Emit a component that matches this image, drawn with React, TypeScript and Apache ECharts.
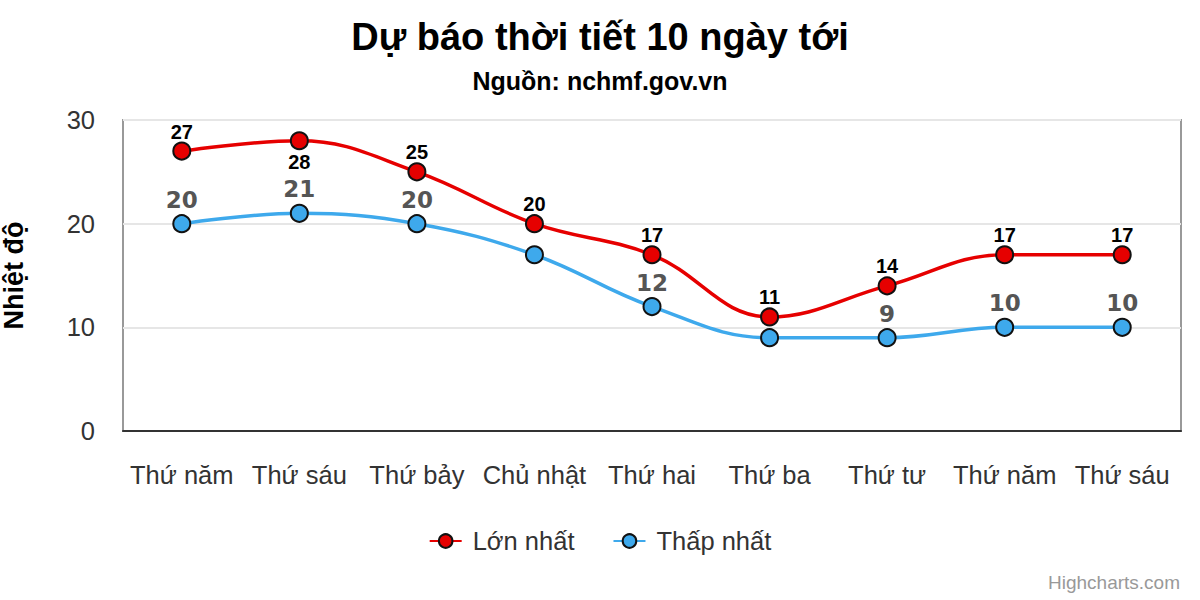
import React, { useEffect, useRef } from "react";
import * as echarts from "echarts";

const categories = ["Thứ năm", "Thứ sáu", "Thứ bảy", "Chủ nhật", "Thứ hai", "Thứ ba", "Thứ tư", "Thứ năm", "Thứ sáu"];
const maxTemps = [27, 28, 25, 20, 17, 11, 14, 17, 17];
const minTemps = [20, 21, 20, 17, 12, 9, 9, 10, 10];
const yTicks = [0, 10, 20, 30];
const titleText = "Dự báo thời tiết 10 ngày tới";
const subtitleText = "Nguồn: nchmf.gov.vn";
const yName = "Nhiệt độ";
const seriesNames = ["Lớn nhất", "Thấp nhất"];
const creditText = "Highcharts.com";
const hiddenMinLabels = [3, 5];
const belowMaxLabels = [1];

const FONT = "'Liberation Sans', Arial, Helvetica, sans-serif";
const WIDE_FONT = "'DejaVu Sans', Verdana, sans-serif";

export default function App() {
  const ref = useRef<HTMLDivElement>(null);
  useEffect(() => {
    document.body.style.margin = "0";
    if (!ref.current) return;
    const chart = echarts.init(ref.current, null, { renderer: "svg" });
    const maxData = maxTemps.map((v, i) =>
      belowMaxLabels.includes(i) ? { value: v, label: { position: "bottom", distance: 2 } } : v
    );
    const minData = minTemps.map((v, i) =>
      hiddenMinLabels.includes(i) ? { value: v, label: { show: false } } : v
    );
    chart.setOption({
      animation: false,
      backgroundColor: "#ffffff",
      textStyle: { fontFamily: FONT },
      title: [
        {
          text: titleText,
          left: "center",
          top: 13,
          textStyle: { fontFamily: FONT, fontSize: 38, fontWeight: "bold", color: "#000" },
        },
        {
          text: subtitleText,
          left: "center",
          top: 63,
          textStyle: { fontFamily: FONT, fontSize: 25, fontWeight: "bold", color: "#000" },
        },
      ],
      legend: {
        data: seriesNames,
        bottom: 41,
        left: "center",
        itemWidth: 32,
        itemHeight: 17,
        itemGap: 38,
        textStyle: { fontFamily: FONT, fontSize: 25.5, color: "#333", padding: [0, 0, 0, 6] },
      },
      grid: {
        left: 123,
        right: 19,
        top: 120,
        bottom: 169,
        show: true,
        borderColor: "#999",
        borderWidth: 2,
        containLabel: false,
        outerBoundsMode: "none",
      },
      xAxis: {
        type: "category",
        data: categories,
        boundaryGap: true,
        axisLine: { lineStyle: { color: "#333", width: 2 } },
        axisTick: { show: false },
        axisLabel: { fontFamily: FONT, fontSize: 25.5, color: "#333", margin: 31, interval: 0 },
      },
      yAxis: {
        type: "value",
        min: yTicks[0],
        max: yTicks[yTicks.length - 1],
        interval: 10,
        name: yName,
        nameLocation: "middle",
        nameRotate: 90,
        nameGap: 96,
        nameTextStyle: { fontFamily: FONT, fontSize: 27, fontWeight: "bold", color: "#000" },
        axisLine: { show: false },
        axisTick: { show: false },
        axisLabel: { fontFamily: FONT, fontSize: 25.5, color: "#333", margin: 28 },
        splitLine: { lineStyle: { color: "#e6e6e6", width: 2 } },
      },
      series: [
        {
          name: seriesNames[0],
          type: "line",
          data: maxData,
          smooth: 0.4,
          symbol: "circle",
          symbolSize: 17,
          lineStyle: { color: "#e60000", width: 3.5 },
          itemStyle: { color: "#e60000", borderColor: "#111", borderWidth: 2 },
          label: {
            show: true,
            position: "top",
            distance: 0,
            fontFamily: FONT,
            fontSize: 20,
            fontWeight: "bold",
            color: "#000",
          },
          z: 3,
        },
        {
          name: seriesNames[1],
          type: "line",
          data: minData,
          smooth: 0.4,
          symbol: "circle",
          symbolSize: 17,
          lineStyle: { color: "#3ea9ec", width: 3.5 },
          itemStyle: { color: "#3ea9ec", borderColor: "#111", borderWidth: 2 },
          label: {
            show: true,
            position: "top",
            distance: 3,
            fontFamily: WIDE_FONT,
            fontSize: 23,
            fontWeight: "bold",
            color: "#555",
          },
          z: 2,
        },
      ],
      graphic: [
        {
          type: "text",
          right: 20,
          bottom: 8,
          style: { text: creditText, fontFamily: FONT, fontSize: 19, fill: "#999" },
        },
      ],
    });
    return () => chart.dispose();
  }, []);
  return <div ref={ref} style={{ width: 1200, height: 600 }} />;
}
